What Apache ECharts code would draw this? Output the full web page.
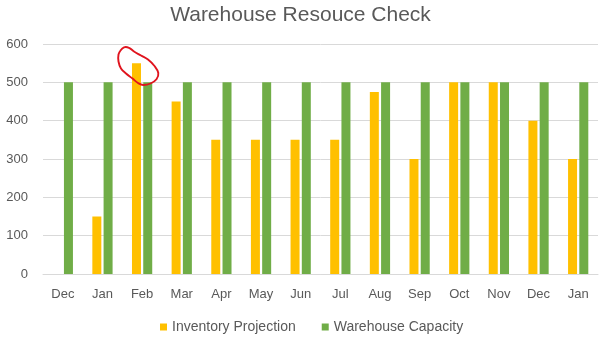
<!DOCTYPE html>
<html>
<head>
<meta charset="utf-8">
<script src="https://cdn.jsdelivr.net/npm/echarts@6/dist/echarts.min.js"></script>
<style>
  html, body { margin: 0; padding: 0; background: #fff; }
  #chart { width: 601px; height: 347px; }
</style>
</head>
<body>
<div id="chart"></div>
<script>
// Months on the x axis
const months = ['Dec', 'Jan', 'Feb', 'Mar', 'Apr', 'May', 'Jun', 'Jul', 'Aug', 'Sep', 'Oct', 'Nov', 'Dec', 'Jan'];
// Projected inventory per month (no projection for the first December)
const inventoryProjection = [null, 150, 550, 450, 350, 350, 350, 350, 475, 300, 500, 500, 400, 300];
// Warehouse capacity per month
const warehouseCapacity = [500, 500, 500, 500, 500, 500, 500, 500, 500, 500, 500, 500, 500, 500];
// Value axis ticks
const yTicks = [0, 100, 200, 300, 400, 500, 600];

const FONT = 'Liberation Sans';
const GREY = '#595959';

const chart = echarts.init(document.getElementById('chart'), null, { renderer: 'canvas' });

// Hand-drawn loop highlighting the February overshoot
const loopPoints = [
  [120.5, 50.5], [124, 47.3], [129, 47.8], [134, 51.5], [141, 55.5], [148, 59.5],
  [154.5, 66], [158.3, 73], [156.5, 79.3], [150.5, 83.5], [143.3, 85], [138, 83],
  [132.5, 78.5], [126, 73.5], [121, 68.5], [118.5, 61.5], [118.5, 54.5], [120.5, 50.5]
];

chart.setOption({
  animation: false,
  backgroundColor: '#ffffff',
  textStyle: { fontFamily: FONT },
  title: {
    text: 'Warehouse Resouce Check',
    left: 'center',
    top: 0,
    textStyle: { fontFamily: FONT, fontSize: 21, fontWeight: 'normal', color: GREY }
  },
  legend: {
    bottom: 8,
    left: 155,
    itemWidth: 7,
    itemHeight: 7,
    itemGap: 26,
    icon: 'rect',
    textStyle: { fontFamily: FONT, fontSize: 14, color: GREY }
  },
  grid: { left: 43, right: 3, top: 44, bottom: 73, containLabel: false },
  xAxis: {
    type: 'category',
    data: months,
    axisLine: { show: true, lineStyle: { color: '#d9d9d9' } },
    axisTick: { show: false },
    axisLabel: { fontFamily: FONT, fontSize: 13, color: GREY, margin: 14 }
  },
  yAxis: {
    type: 'value',
    min: yTicks[0],
    max: yTicks[yTicks.length - 1],
    interval: yTicks[1] - yTicks[0],
    axisLine: { show: false },
    axisTick: { show: false },
    splitLine: { lineStyle: { color: '#d9d9d9', width: 1 } },
    axisLabel: { fontFamily: FONT, fontSize: 13, color: GREY, margin: 15 }
  },
  series: [
    {
      name: 'Inventory Projection',
      type: 'bar',
      data: inventoryProjection,
      barWidth: 9,
      barGap: '25%',
      itemStyle: { color: '#ffc000' }
    },
    {
      name: 'Warehouse Capacity',
      type: 'bar',
      data: warehouseCapacity,
      barWidth: 9,
      barGap: '25%',
      itemStyle: { color: '#70ad47' }
    }
  ],
  graphic: [
    {
      type: 'polyline',
      z: 100,
      shape: { points: loopPoints, smooth: 0.4 },
      style: { stroke: '#e0141e', lineWidth: 1.9, fill: null }
    }
  ]
});
</script>
</body>
</html>
